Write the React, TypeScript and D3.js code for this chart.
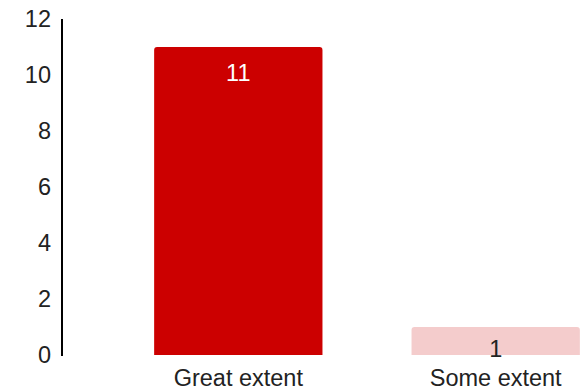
import React from "react";
import * as d3 from "d3";

const categories = ["Great extent", "Some extent"];
const values = [11, 1];
const barColors = ["#cc0000", "#f4cccc"];
const labelColors = ["#ffffff", "#222222"];
const yTicks = [0, 2, 4, 6, 8, 10, 12];

const W = 582;
const H = 391;

export default function App() {
  const x = d3.scaleBand<string>().domain(categories).range([62, 672]).paddingInner(0.346).paddingOuter(0.358);
  const y = d3.scaleLinear().domain([0, 12]).range([355, 19]);
  const font = "Liberation Sans, Arial, sans-serif";
  const r = 3;
  const fs = 23.5;
  return (
    <svg width={W} height={H} style={{ position: "absolute", left: 0, top: 0 }} fontFamily={font}>
      <rect width={W} height={H} fill="#fff" />
      {categories.map((c, i) => {
        const x0 = x(c)!;
        const bw = x.bandwidth();
        const yt = y(values[i]);
        const yb = y(0);
        const path = `M${x0},${yb} L${x0},${yt + r} Q${x0},${yt} ${x0 + r},${yt} L${x0 + bw - r},${yt} Q${x0 + bw},${yt} ${x0 + bw},${yt + r} L${x0 + bw},${yb} Z`;
        return (
          <g key={c}>
            <path d={path} fill={barColors[i]} />
            <text x={x0 + bw / 2} y={Math.min(yt + 34, yb + 2)} textAnchor="middle" fontSize={fs} fill={labelColors[i]}>
              {values[i]}
            </text>
            <text x={x0 + bw / 2} y={386} textAnchor="middle" fontSize={fs} fill="#222">
              {c}
            </text>
          </g>
        );
      })}
      <line x1={62} x2={62} y1={y(12)} y2={y(0) + 1} stroke="#000" strokeWidth={2} />
      {yTicks.map((t) => (
        <text key={t} x={51} y={y(t)} dy="0.35em" textAnchor="end" fontSize={fs} fill="#222">
          {t}
        </text>
      ))}
    </svg>
  );
}
